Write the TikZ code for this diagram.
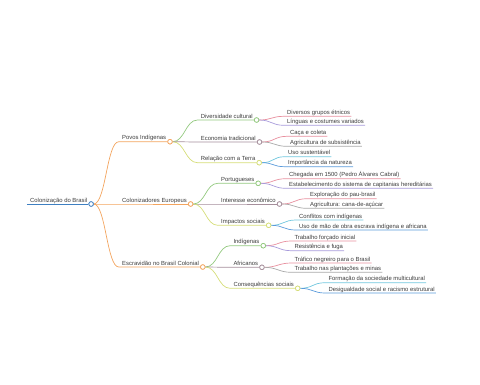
\documentclass[tikz,border=0pt]{standalone}
\usepackage{fontspec}
\setmainfont{Liberation Sans}
\definecolor{txt}{HTML}{3C3C3C}
\definecolor{rootblue}{HTML}{3E7FC1}
\definecolor{corange}{HTML}{F3A45E}
\definecolor{cgreen}{HTML}{93C97F}
\definecolor{cmauve}{HTML}{A58E9B}
\definecolor{cyellow}{HTML}{D5DD78}
\definecolor{cpink}{HTML}{E8909F}
\definecolor{clav}{HTML}{A89BDB}
\definecolor{ccyan}{HTML}{72C7DE}
\definecolor{cblue}{HTML}{5B9BDB}
\definecolor{cgray}{HTML}{A9A9A9}
\tikzset{
  lbl/.style={inner sep=0pt, text=txt, font=\fontsize{5.9}{7}\selectfont},
  conn/.style={line width=0.7pt},
  dot/.style={circle, fill=white, line width=0.7pt, minimum size=4.6pt, inner sep=0pt},
}
\newcommand{\mmtext}[4]{%
  \node[lbl,anchor=base west] (#1) at (#2,#3) {#4};
  \coordinate (#1u) at ([xshift=-3.2pt,yshift=-1.8pt]#1.base west);
  \coordinate (#1e) at ([xshift=1pt,yshift=-1.8pt]#1.base east);
}
\newcommand{\mmlink}[3]{%
  \draw[conn,#3] (#1c.east) .. controls +(12,0) and +(-12,0) .. (#2u) -- (#2e);
}
\newcommand{\mmdot}[2]{%
  \node[dot,draw=#2,anchor=west] (#1c) at (#1e) {};
}
\begin{document}
\begin{tikzpicture}[x=1pt,y=-1pt]
\useasboundingbox (0,0) rectangle (480,384);
% texts
\mmtext{r}{30}{202.2}{Colonização do Brasil}
\mmtext{a}{122}{139.9}{Povos Indígenas}
\mmtext{b}{122}{202.2}{Colonizadores Europeus}
\mmtext{c}{122}{265.2}{Escravidão no Brasil Colonial}
\mmtext{aa}{200.7}{118.2}{Diversidade cultural}
\mmtext{ab}{200.7}{140.2}{Economia tradicional}
\mmtext{ac}{200.7}{160.9}{Relação com a Terra}
\mmtext{ba}{221}{181.5}{Portugueses}
\mmtext{bb}{221}{202.2}{Interesse econômico}
\mmtext{bc}{221}{223.5}{Impactos sociais}
\mmtext{ca}{233.3}{243.9}{Indígenas}
\mmtext{cb}{233.3}{265.5}{Africanos}
\mmtext{cc}{233.3}{286.5}{Consequências sociais}
\mmtext{aa1}{287}{114.5}{Diversos grupos étnicos}
\mmtext{aa2}{287}{123.5}{Línguas e costumes variados}
\mmtext{ab1}{290}{134.5}{Caça e coleta}
\mmtext{ab2}{290}{144.5}{Agricultura de subsistência}
\mmtext{ac1}{288}{154.9}{Uso sustentável}
\mmtext{ac2}{288}{164.9}{Importância da natureza}
\mmtext{ba1}{289}{176.9}{Chegada em 1500 (Pedro Álvares Cabral)}
\mmtext{ba2}{289}{186.5}{Estabelecimento do sistema de capitanias hereditárias}
\mmtext{bb1}{310}{196.9}{Exploração do pau-brasil}
\mmtext{bb2}{310}{206.5}{Agricultura: cana-de-açúcar}
\mmtext{bc1}{299}{218.2}{Conflitos com indígenas}
\mmtext{bc2}{299}{228.2}{Uso de mão de obra escrava indígena e africana}
\mmtext{ca1}{294.3}{239.2}{Trabalho forçado inicial}
\mmtext{ca2}{294.3}{248.9}{Resistência e fuga}
\mmtext{cb1}{294.3}{261.2}{Tráfico negreiro para o Brasil}
\mmtext{cb2}{294.3}{270.5}{Trabalho nas plantações e minas}
\mmtext{cc1}{328.3}{280.9}{Formação da sociedade multicultural}
\mmtext{cc2}{328.3}{291.2}{Desigualdade social e racismo estrutural}
% root underline and dots (dots needed as link anchors)
\draw[conn,rootblue] (ru) -- (re);
\mmdot{r}{rootblue}
\mmdot{a}{corange}\mmdot{b}{corange}\mmdot{c}{corange}
\mmdot{aa}{cgreen}\mmdot{ab}{cmauve}\mmdot{ac}{cyellow}
\mmdot{ba}{cgreen}\mmdot{bb}{cmauve}\mmdot{bc}{cyellow}
\mmdot{ca}{cgreen}\mmdot{cb}{cmauve}\mmdot{cc}{cyellow}
% links
\mmlink{r}{a}{corange}\mmlink{r}{b}{corange}\mmlink{r}{c}{corange}
\mmlink{a}{aa}{cgreen}\mmlink{a}{ab}{cmauve}\mmlink{a}{ac}{cyellow}
\mmlink{b}{ba}{cgreen}\mmlink{b}{bb}{cmauve}\mmlink{b}{bc}{cyellow}
\mmlink{c}{ca}{cgreen}\mmlink{c}{cb}{cmauve}\mmlink{c}{cc}{cyellow}
\mmlink{aa}{aa1}{cpink}\mmlink{aa}{aa2}{clav}
\mmlink{ab}{ab1}{cpink}\mmlink{ab}{ab2}{cgray}
\mmlink{ac}{ac1}{ccyan}\mmlink{ac}{ac2}{cblue}
\mmlink{ba}{ba1}{cpink}\mmlink{ba}{ba2}{clav}
\mmlink{bb}{bb1}{cpink}\mmlink{bb}{bb2}{cgray}
\mmlink{bc}{bc1}{ccyan}\mmlink{bc}{bc2}{cblue}
\mmlink{ca}{ca1}{cpink}\mmlink{ca}{ca2}{clav}
\mmlink{cb}{cb1}{cpink}\mmlink{cb}{cb2}{cgray}
\mmlink{cc}{cc1}{ccyan}\mmlink{cc}{cc2}{cblue}
% redraw dots on top
\mmdot{r}{rootblue}
\mmdot{a}{corange}\mmdot{b}{corange}\mmdot{c}{corange}
\mmdot{aa}{cgreen}\mmdot{ab}{cmauve}\mmdot{ac}{cyellow}
\mmdot{ba}{cgreen}\mmdot{bb}{cmauve}\mmdot{bc}{cyellow}
\mmdot{ca}{cgreen}\mmdot{cb}{cmauve}\mmdot{cc}{cyellow}
\end{tikzpicture}
\end{document}
